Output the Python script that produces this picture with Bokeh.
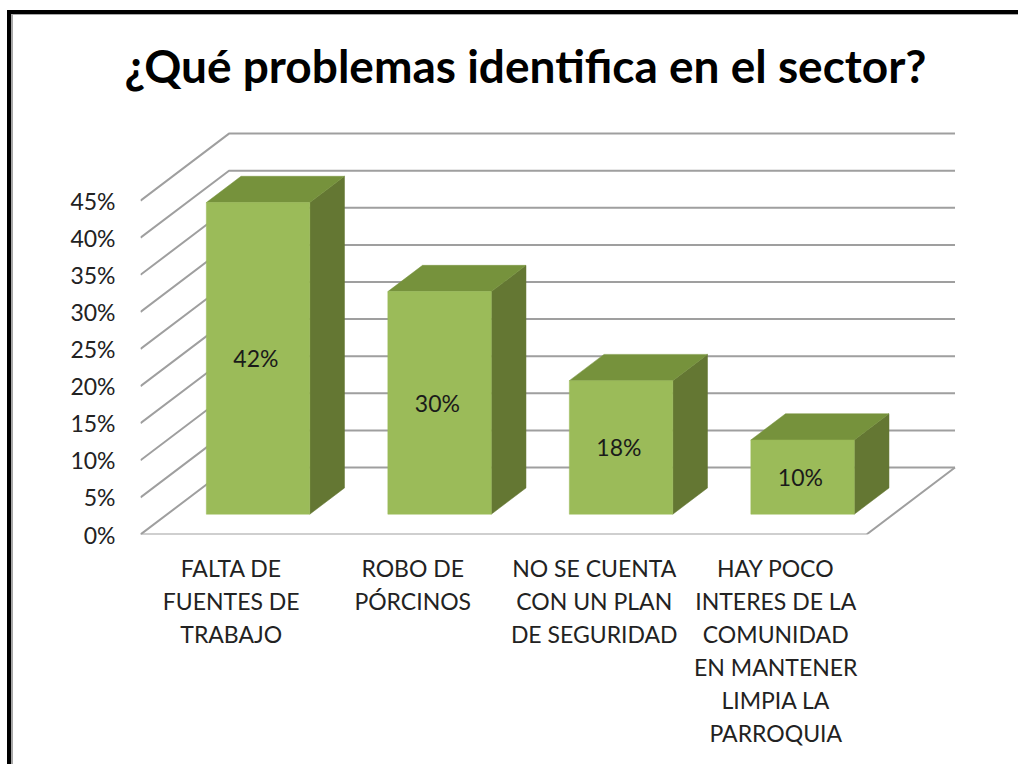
from bokeh.plotting import figure
from bokeh.models import Range1d, FixedTicker
from bokeh.core.properties import value
from bokeh.embed import file_html
from bokeh.resources import INLINE

# ---- data ----
title_text = "¿Qué problemas identifica en el sector?"
categories = [
    "FALTA DE\nFUENTES DE\nTRABAJO",
    "ROBO DE\nPÓRCINOS",
    "NO SE CUENTA\nCON UN PLAN\nDE SEGURIDAD",
    "HAY POCO\nINTERES DE LA\nCOMUNIDAD\nEN MANTENER\nLIMPIA LA\nPARROQUIA",
]
values = [42, 30, 18, 10]
y_ticks = [0, 5, 10, 15, 20, 25, 30, 35, 40, 45]
y_labels = ["0%", "5%", "10%", "15%", "20%", "25%", "30%", "35%", "40%", "45%"]

# ---- layout (px in the window) ----
BOX_L, BOX_T = 11, 14          # outer edge of the grey inner rule
IN_L, IN_T = 13, 15            # where the canvas starts
W, H = 1018 - BOX_L, 764 - BOX_T
F_L, F_R, F_T, F_B = 140, 959, 112, 534
PX_PER_CAT = 181.5
PX_PER_PCT = 7.42
FONT = "Lato"
LABEL_SIZE = "23px"

# oblique projection of the depth axis, in data units
DX = 88.5 / PX_PER_CAT
DY = 67.0 / PX_PER_PCT
D_FRONT, D_BACK = 0.303, 0.695
HALF = 0.285


def proj(x, y, d):
    return x + d * DX, y + d * DY


p = figure(
    width=W, height=H, output_backend="svg", toolbar_location=None,
    x_range=Range1d(0, (F_R - F_L) / PX_PER_CAT),
    y_range=Range1d(0, (F_B - F_T) / PX_PER_PCT),
    min_border_left=F_L - IN_L, min_border_right=IN_L + W - F_R,
    min_border_top=F_T - IN_T, min_border_bottom=IN_T + H - F_B,
    background_fill_color="white", border_fill_color="white",
    outline_line_color=None,
    margin=(BOX_T, 0, 0, BOX_L),
)
p.grid.visible = False

# title
p.title.text = title_text
p.title.align = "left"
p.title.offset = 124 - F_L
p.title.standoff = 40
p.title.text_font = FONT
p.title.text_font_style = "bold"
p.title.text_font_size = "46px"
p.title.text_color = "#000000"

# axes
ax = p.yaxis[0]
ax.ticker = FixedTicker(ticks=y_ticks)
ax.major_label_overrides = dict(zip(y_ticks, y_labels))
ax.axis_line_color = None
ax.major_tick_line_color = None
ax.minor_tick_line_color = None
ax.major_label_standoff = 19
ax.major_label_text_font = FONT
ax.major_label_text_font_size = LABEL_SIZE
ax.major_label_text_color = "#222222"

x_pos = [i + 0.5 for i in range(len(categories))]
bx = p.xaxis[0]
bx.ticker = FixedTicker(ticks=x_pos)
bx.major_label_overrides = dict(zip(x_pos, categories))
bx.axis_line_color = None
bx.major_tick_line_color = None
bx.minor_tick_line_color = None
bx.major_label_standoff = 13
bx.major_label_text_font = FONT
bx.major_label_text_font_size = LABEL_SIZE
bx.major_label_text_color = "#222222"
bx.major_label_text_line_height = 1.18

# walls
GRID = "#9f9f9f"
n = len(categories)
for t in y_ticks:
    x0, y0 = proj(0, t, 0)
    x1, y1 = proj(0, t, 1)
    x2, y2 = proj(n, t, 1)
    p.line([x0, x1, x2], [y0, y1, y2], line_color=GRID, line_width=2)
# floor
xs, ys = zip(*[proj(0, 0, 0), proj(n, 0, 0), proj(n, 0, 1)])
p.line(list(xs), list(ys), line_color=GRID, line_width=2)

# bars
FRONT, TOP, SIDE = "#9bbb59", "#76923c", "#647733"
for xc, v in zip(x_pos, values):
    l, r = xc - HALF, xc + HALF
    front = [proj(l, 0, D_FRONT), proj(r, 0, D_FRONT), proj(r, v, D_FRONT), proj(l, v, D_FRONT)]
    side = [proj(r, 0, D_FRONT), proj(r, 0, D_BACK), proj(r, v, D_BACK), proj(r, v, D_FRONT)]
    top = [proj(l, v, D_FRONT), proj(r, v, D_FRONT), proj(r, v, D_BACK), proj(l, v, D_BACK)]
    for quad, col in ((side, SIDE), (top, TOP), (front, FRONT)):
        qx, qy = zip(*quad)
        p.patch(list(qx), list(qy), fill_color=col, line_color=col, line_width=0.5)
    tx, ty = proj(xc, v / 2, D_FRONT)
    p.text([tx - 0.012], [ty], text=[f"{v}%"], text_align="center", text_baseline="middle",
           text_font=value(FONT), text_font_size=LABEL_SIZE, text_color="#1a1a1a")

# picture frame, left and top edges only: grey inner rule and black outer rule
p.styles = {"border-left": "2px solid #a8a8a8", "border-top": "1px solid #a8a8a8",
            "box-shadow": "-4px 0 0 0 #000, 0 -4px 0 0 #000, -4px -4px 0 0 #000"}

open("out.html", "w").write(file_html(p, INLINE))
